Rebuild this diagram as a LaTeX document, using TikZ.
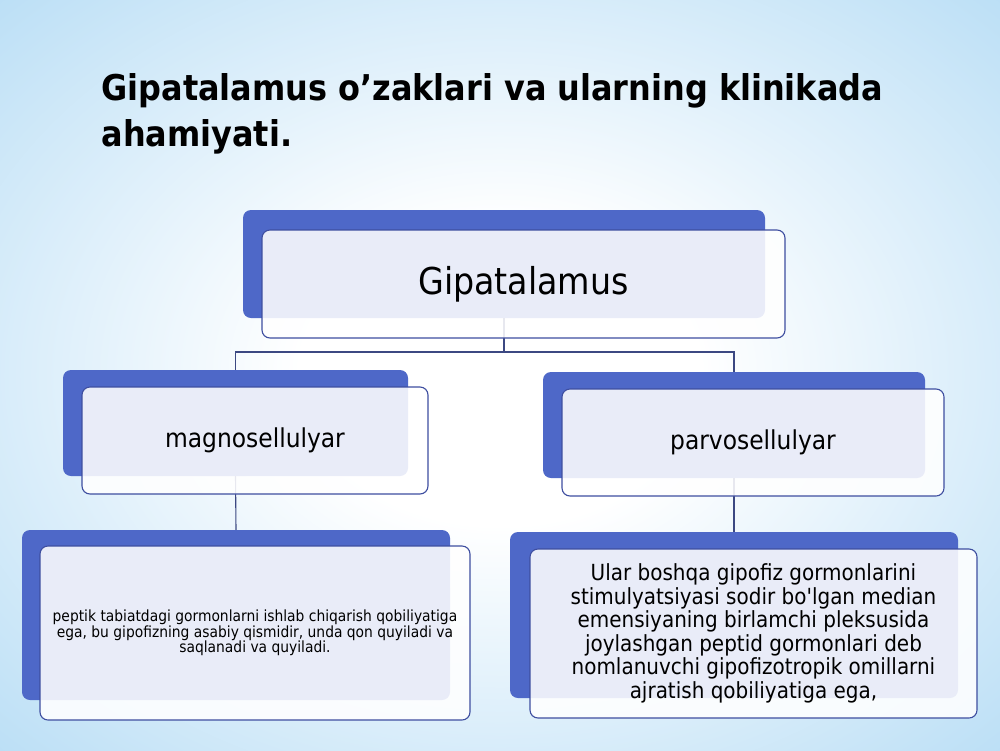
\documentclass[tikz,border=0pt]{standalone}
\usepackage{fontspec}
\setmainfont{DejaVu Sans Condensed}[Ligatures=TeXOff]
\definecolor{bgblue}{RGB}{160,210,242}
\definecolor{boxblue}{RGB}{78,104,200}
\definecolor{rimblue}{RGB}{62,78,160}
\definecolor{linkblue}{RGB}{60,72,130}
\pgfdeclareradialshading{slidebg}{\pgfpoint{0bp}{0bp}}{color(0bp)=(white); color(10bp)=(white); color(46bp)=(bgblue); color(72bp)=(bgblue)}
\begin{document}
\begin{tikzpicture}[x=1pt,y=-1pt,
  backbox/.style={rectangle, rounded corners=8pt, fill=boxblue, draw=none, inner sep=0pt},
  frontbox/.style={rectangle, rounded corners=8pt, fill=white, fill opacity=0.88, text opacity=1, draw=rimblue, line width=1.1pt, inner sep=0pt, align=center},
  link/.style={draw=linkblue, line width=1.1pt}]
\useasboundingbox (0,0) rectangle (1000,750);
\shade[shading=slidebg] (0,0) rectangle (1000,750);
% title
\node [anchor=west, align=left, font=\bfseries\fontsize{35.5}{46}\selectfont] (title) at (98,114) {Gipatalamus o’zaklari va ularning klinikada\\ahamiyati.};
% back boxes
\node [backbox, minimum width=522pt, minimum height=108pt] (topback) at (504,264) {};
\node [backbox, minimum width=345pt, minimum height=106pt] (magback) at (235.5,423) {};
\node [backbox, minimum width=382pt, minimum height=106pt] (parback) at (734,425) {};
\node [backbox, minimum width=428pt, minimum height=170pt] (magtxtback) at (236,615) {};
\node [backbox, minimum width=448pt, minimum height=166pt] (partxtback) at (734,615) {};
% connectors
\coordinate (split) at (504,352);
\draw [link] (topback.south) -- (split) -| (magback.north);
\draw [link] (split) -| (parback.north);
\draw [link] (magback.south) -- (magtxtback.north);
\draw [link] (parback.south) -- (partxtback.north);
% front boxes
\node [frontbox, minimum width=523pt, minimum height=108pt, font=\fontsize{37}{44}\selectfont] (top) at (523.5,284) {Gipatalamus};
\node [frontbox, minimum width=346pt, minimum height=107pt, font=\fontsize{26}{30}\selectfont] (mag) at (255,440.5) {magnosellulyar};
\node [frontbox, minimum width=382pt, minimum height=107pt, font=\fontsize{26}{30}\selectfont] (par) at (753,442.5) {parvosellulyar};
\node [frontbox, minimum width=430pt, minimum height=174pt, font=\fontsize{15.4}{15.5}\selectfont] (magtxt) at (255,633) {peptik tabiatdagi gormonlarni ishlab chiqarish qobiliyatiga\\ega, bu gipofizning asabiy qismidir, unda qon quyiladi va\\saqlanadi va quyiladi.};
\node [frontbox, minimum width=447pt, minimum height=169pt, font=\fontsize{22.2}{23.5}\selectfont] (partxt) at (753.5,633.5) {Ular boshqa gipofiz gormonlarini\\stimulyatsiyasi sodir bo'lgan median\\emensiyaning birlamchi pleksusida\\joylashgan peptid gormonlari deb\\nomlanuvchi gipofizotropik omillarni\\ajratish qobiliyatiga ega,};
\end{tikzpicture}
\end{document}
